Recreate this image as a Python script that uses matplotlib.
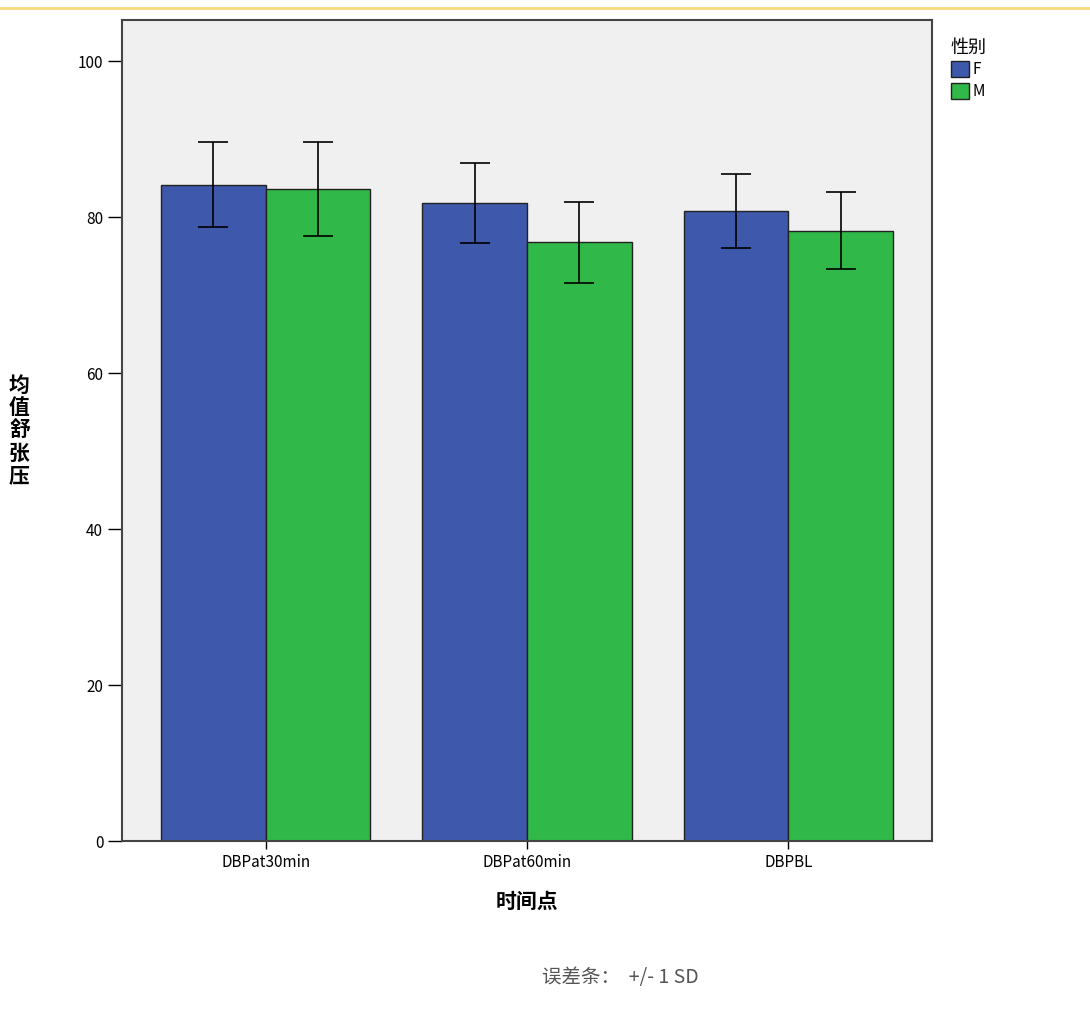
import numpy as np
import matplotlib
matplotlib.use("Agg")
import matplotlib.pyplot as plt
from matplotlib.patches import Patch
from matplotlib.lines import Line2D

plt.rcParams['font.family'] = ['Noto Sans CJK SC', 'DejaVu Sans']

categories = ["DBPat30min", "DBPat60min", "DBPBL"]
female_mean = [84.2, 81.8, 80.8]
female_sd = [5.4, 5.1, 4.7]
male_mean = [83.6, 76.8, 78.3]
male_sd = [6.0, 5.2, 4.9]

blue = "#3e58ab"
green = "#30b848"

fig = plt.figure(figsize=(10.9, 10.1), dpi=100)
ax = fig.add_axes([122/1090, 1 - 841/1010, 810/1090, 821/1010])
ax.set_facecolor("#f0f0f0")

x = np.arange(len(categories))
w = 0.4
err_kw = dict(ecolor="black", capsize=11, elinewidth=1.2, capthick=1.2)
ax.bar(x - w/2, female_mean, w, yerr=female_sd, color=blue, edgecolor="#222222",
       linewidth=1, error_kw=err_kw)
ax.bar(x + w/2, male_mean, w, yerr=male_sd, color=green, edgecolor="#222222",
       linewidth=1, error_kw=err_kw)

ax.set_xlim(-0.55, 2.55)
ax.set_ylim(0, 105.3)
ax.set_yticks([0, 20, 40, 60, 80, 100])
ax.set_xticks(x)
ax.set_xticklabels(categories, fontsize=11)
ax.tick_params(axis="y", labelsize=11, length=10, width=1)
ax.tick_params(axis="x", length=6, width=1)
for s in ax.spines.values():
    s.set_color("#444444")
    s.set_linewidth(1.5)

ax.set_xlabel("时间点", fontsize=15, fontweight="bold", labelpad=14)
ax.set_ylabel("\n".join("均值舒张压"), fontsize=15, fontweight="bold",
              rotation=0, va="center", labelpad=42, linespacing=1.1)

handles = [Patch(facecolor=blue, edgecolor="#222222", label="F"),
           Patch(facecolor=green, edgecolor="#222222", label="M")]
leg = fig.legend(handles=handles, title="性别", loc="upper left",
                 bbox_to_anchor=(940/1090, 1 - 28/1010), frameon=False,
                 fontsize=11, title_fontsize=13, handlelength=1.2,
                 handleheight=1.2, handletextpad=0.2, labelspacing=0.3,
                 borderpad=0.2)
leg._legend_box.align = "left"

fig.text(620/1090, 1 - 977/1010, "误差条：  +/- 1 SD", ha="center", va="center",
         fontsize=14, color="#555555")
fig.add_artist(Line2D([0, 1], [1 - 8/1010, 1 - 8/1010], color="#f7dc7c", linewidth=2))

fig.savefig("out.png", dpi=100)
